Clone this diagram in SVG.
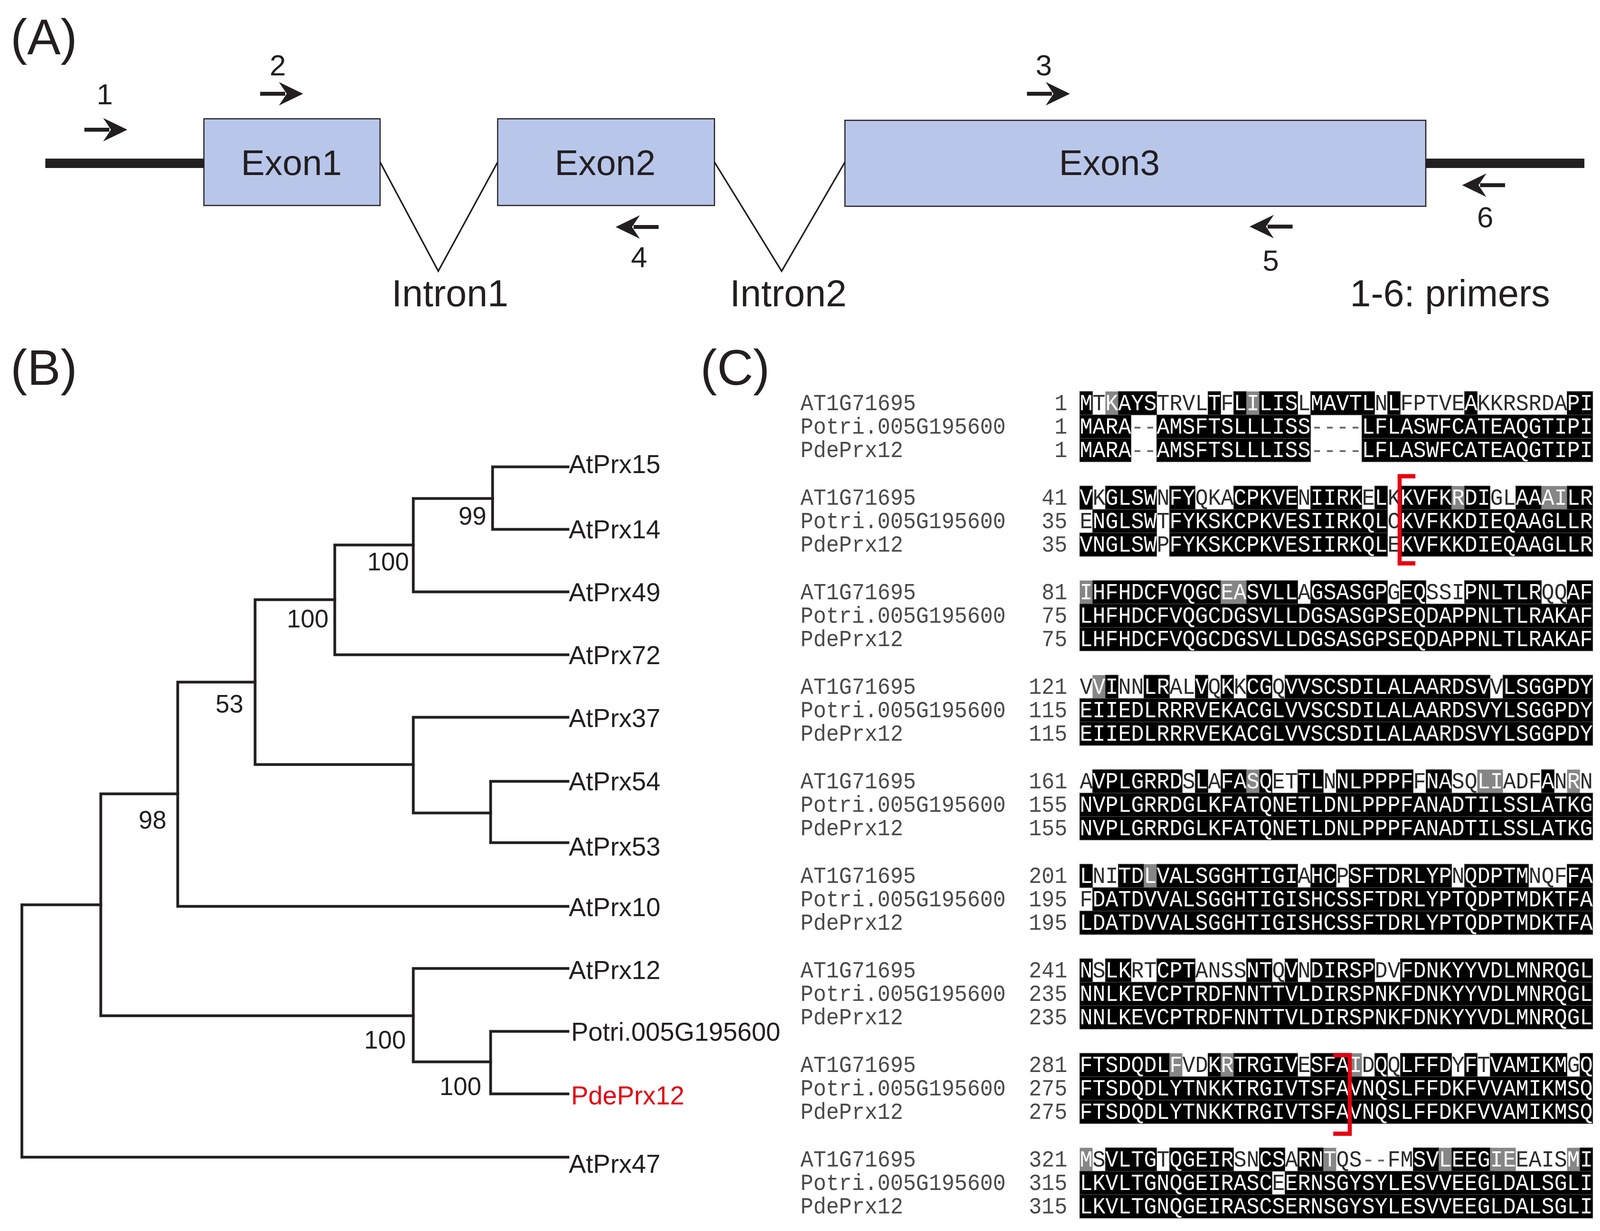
<svg xmlns="http://www.w3.org/2000/svg" xmlns:xlink="http://www.w3.org/1999/xlink" width="4240" height="3151" viewBox="0 0 4240 3151">
<style>
.lbl{font-family:"Liberation Sans",Arial,sans-serif;fill:#231f20}
.pl{font-size:128px}
.ex{font-size:91px;text-anchor:middle}
.in{font-size:96px}
.pn{font-size:75px;text-anchor:middle}
.lf{font-size:66px}
.bs{font-size:64px;text-anchor:end}
.tree{fill:none;stroke:#231f20;stroke-width:7;stroke-linecap:square}
.exon{fill:#b8c6ea;stroke:#231f20;stroke-width:3}
.intr{fill:none;stroke:#231f20;stroke-width:4}
.b{fill:#000;stroke:#444;stroke-width:1.5}
.g{fill:#868686}
.s{font-family:"Liberation Mono","Courier New",monospace;font-size:58.33px;fill:#fff}
.k{fill:#2b2b2b}
.d{fill:#6a6a6a}
.nm{font-family:"Liberation Mono","Courier New",monospace;font-size:58.33px;fill:#4a4a4a}
.nr{text-anchor:end}
.br{fill:none;stroke:#e60012;stroke-width:11}
</style>
<defs>
<path id="arr" d="M0,0 L-62,-30 L-42,0 L-62,30 Z M-110,-5 H-46 V5 H-110 Z" fill="#231f20"/>
</defs>
<rect width="4240" height="3151" fill="#fff"/>

<!-- Panel A -->
<g id="panelA">
<text class="lbl pl" x="27" y="139">(A)</text>
<g id="gene-line">
<rect x="116" y="406" width="408" height="24" fill="#231f20"/>
<rect x="3650" y="406" width="406" height="24" fill="#231f20"/>
</g>
<g id="exon1"><rect class="exon" x="522" y="304" width="451" height="222"/><text class="lbl ex" x="746" y="448">Exon1</text></g>
<g id="exon2"><rect class="exon" x="1274" y="304" width="555" height="222"/><text class="lbl ex" x="1549" y="448">Exon2</text></g>
<g id="exon3"><rect class="exon" x="2163" y="308" width="1487" height="220"/><text class="lbl ex" x="2840" y="448">Exon3</text></g>
<g id="intron1-label"><text class="lbl in" x="1152" y="784" text-anchor="middle">Intron1</text></g>
<g id="intron2-label"><text class="lbl in" x="2018" y="784" text-anchor="middle">Intron2</text></g>
<g id="primers-legend"><text class="lbl in" x="3456" y="784">1-6: primers</text></g>
<g id="primer1"><use xlink:href="#arr" transform="translate(326,332)"/><text class="lbl pn" x="268" y="267">1</text></g>
<g id="primer2"><use xlink:href="#arr" transform="translate(776,240)"/><text class="lbl pn" x="711" y="193">2</text></g>
<g id="primer3"><use xlink:href="#arr" transform="translate(2739,240)"/><text class="lbl pn" x="2672" y="193">3</text></g>
<g id="primer4"><use xlink:href="#arr" transform="translate(1576,581) scale(-1,1)"/><text class="lbl pn" x="1636" y="684">4</text></g>
<g id="primer5"><use xlink:href="#arr" transform="translate(3199,580) scale(-1,1)"/><text class="lbl pn" x="3253" y="693">5</text></g>
<g id="primer6"><use xlink:href="#arr" transform="translate(3743,474) scale(-1,1)"/><text class="lbl pn" x="3802" y="582">6</text></g>
</g>

<!-- Panel B -->
<g id="panelB">
<text class="lbl pl" x="27" y="985">(B)</text>
<g id="connectors">
<path class="intr" d="M973,415 L1122,694 L1274,415"/>
<path class="intr" d="M1829,415 L2001,694 L2163,415"/>
<path class="tree" d="M258,2316 H56 V2962 H1454"/>
<path class="tree" d="M455,2032 H258 V2600 H1058"/>
<path class="tree" d="M653,1746 H455 V2320 H1454"/>
<path class="tree" d="M857,1535 H653 V1957 H1058"/>
<path class="tree" d="M1058,1395 H857 V1676 H1454"/>
<path class="tree" d="M1261,1276 H1058 V1515 H1454"/>
<path class="tree" d="M1454,1195 H1261 V1355 H1454"/>
<path class="tree" d="M1454,1836 H1058 V2081 H1256"/>
<path class="tree" d="M1454,2000 H1256 V2157 H1454"/>
<path class="tree" d="M1454,2479 H1058 V2718 H1256"/>
<path class="tree" d="M1454,2640 H1256 V2800 H1454"/>
</g>
<g id="leaf-AtPrx15"><text class="lbl lf" x="1456" y="1211">AtPrx15</text></g>
<g id="leaf-AtPrx14"><text class="lbl lf" x="1456" y="1378">AtPrx14</text></g>
<g id="leaf-AtPrx49"><text class="lbl lf" x="1456" y="1539">AtPrx49</text></g>
<g id="leaf-AtPrx72"><text class="lbl lf" x="1456" y="1700">AtPrx72</text></g>
<g id="leaf-AtPrx37"><text class="lbl lf" x="1456" y="1861">AtPrx37</text></g>
<g id="leaf-AtPrx54"><text class="lbl lf" x="1456" y="2023">AtPrx54</text></g>
<g id="leaf-AtPrx53"><text class="lbl lf" x="1456" y="2190">AtPrx53</text></g>
<g id="leaf-AtPrx10"><text class="lbl lf" x="1456" y="2345">AtPrx10</text></g>
<g id="leaf-AtPrx12"><text class="lbl lf" x="1456" y="2506">AtPrx12</text></g>
<g id="leaf-Potri"><text class="lbl lf" x="1462" y="2664">Potri.005G195600</text></g>
<g id="leaf-PdePrx12"><text class="lbl lf" x="1462" y="2827" style="fill:#e60012">PdePrx12</text></g>
<g id="leaf-AtPrx47"><text class="lbl lf" x="1456" y="3002">AtPrx47</text></g>
<g id="bootstrap">
<text class="lbl bs" x="1245" y="1343">99</text>
<text class="lbl bs" x="1047" y="1460">100</text>
<text class="lbl bs" x="841" y="1606">100</text>
<text class="lbl bs" x="623" y="1824">53</text>
<text class="lbl bs" x="426" y="2121">98</text>
<text class="lbl bs" x="1039" y="2684">100</text>
<text class="lbl bs" x="1232" y="2803">100</text>
</g>
</g>

<!-- Panel C -->
<g id="panelC">
<text class="lbl pl" x="1793" y="985">(C)</text>
<g id="alignment" transform="translate(2040,0) scale(0.938,1) translate(-2040,0)">

<g id="block1">
<rect class="b" x="2812" y="1002" width="35" height="60"/><rect class="g" x="2882" y="1002" width="35" height="60"/><rect class="b" x="2917" y="1002" width="105" height="60"/><rect class="b" x="3162" y="1002" width="35" height="60"/><rect class="b" x="3232" y="1002" width="35" height="60"/><rect class="g" x="3267" y="1002" width="35" height="60"/><rect class="b" x="3302" y="1002" width="105" height="60"/><rect class="b" x="3442" y="1002" width="175" height="60"/><rect class="b" x="3652" y="1002" width="35" height="60"/><rect class="b" x="3862" y="1002" width="35" height="60"/><rect class="b" x="4142" y="1002" width="70" height="60"/>
<rect class="b" x="2812" y="1062" width="140" height="60"/><rect class="b" x="3022" y="1062" width="420" height="60"/><rect class="b" x="3582" y="1062" width="630" height="60"/>
<rect class="b" x="2812" y="1122" width="140" height="60"/><rect class="b" x="3022" y="1122" width="420" height="60"/><rect class="b" x="3582" y="1122" width="630" height="60"/>
<text class="nm" x="2050" y="1050">AT1G71695</text><text class="nm" x="2050" y="1110">Potri.005G195600</text><text class="nm" x="2050" y="1170">PdePrx12</text>
<text class="nm nr" x="2778" y="1050">1</text><text class="nm nr" x="2778" y="1110">1</text><text class="nm nr" x="2778" y="1170">1</text>
<text class="s" x="2812" y="1050">M<tspan class="k">T</tspan>KAYS<tspan class="k">TRVL</tspan>T<tspan class="k">F</tspan>LILIS<tspan class="k">L</tspan>MAVTL<tspan class="k">N</tspan>L<tspan class="k">FPTVE</tspan>A<tspan class="k">KKRSRDA</tspan>PI</text>
<text class="s" x="2812" y="1110">MARA<tspan class="d">--</tspan>AMSFTSLLLISS<tspan class="d">----</tspan>LFLASWFCATEAQGTIPI</text>
<text class="s" x="2812" y="1170">MARA<tspan class="d">--</tspan>AMSFTSLLLISS<tspan class="d">----</tspan>LFLASWFCATEAQGTIPI</text>
</g>

<g id="block2">
<rect class="b" x="2812" y="1244" width="35" height="60"/><rect class="b" x="2882" y="1244" width="140" height="60"/><rect class="b" x="3057" y="1244" width="70" height="60"/><rect class="b" x="3232" y="1244" width="175" height="60"/><rect class="b" x="3442" y="1244" width="140" height="60"/><rect class="b" x="3617" y="1244" width="35" height="60"/><rect class="b" x="3687" y="1244" width="140" height="60"/><rect class="g" x="3827" y="1244" width="35" height="60"/><rect class="b" x="3862" y="1244" width="70" height="60"/><rect class="b" x="4002" y="1244" width="70" height="60"/><rect class="g" x="4072" y="1244" width="70" height="60"/><rect class="b" x="4142" y="1244" width="70" height="60"/>
<rect class="b" x="2847" y="1304" width="175" height="60"/><rect class="b" x="3057" y="1304" width="595" height="60"/><rect class="b" x="3687" y="1304" width="525" height="60"/>
<rect class="b" x="2812" y="1364" width="210" height="60"/><rect class="b" x="3057" y="1364" width="595" height="60"/><rect class="b" x="3687" y="1364" width="525" height="60"/>
<text class="nm" x="2050" y="1292">AT1G71695</text><text class="nm" x="2050" y="1352">Potri.005G195600</text><text class="nm" x="2050" y="1412">PdePrx12</text>
<text class="nm nr" x="2778" y="1292">41</text><text class="nm nr" x="2778" y="1352">35</text><text class="nm nr" x="2778" y="1412">35</text>
<text class="s" x="2812" y="1292">V<tspan class="k">K</tspan>GLSW<tspan class="k">N</tspan>FY<tspan class="k">QKA</tspan>CPKVE<tspan class="k">N</tspan>IIRK<tspan class="k">E</tspan>L<tspan class="k">K</tspan>KVFKRDI<tspan class="k">GL</tspan>AAAILR</text>
<text class="s" x="2812" y="1352"><tspan class="k">E</tspan>NGLSW<tspan class="k">T</tspan>FYKSKCPKVESIIRKQL<tspan class="k">C</tspan>KVFKKDIEQAAGLLR</text>
<text class="s" x="2812" y="1412">VNGLSW<tspan class="k">P</tspan>FYKSKCPKVESIIRKQL<tspan class="k">E</tspan>KVFKKDIEQAAGLLR</text>
</g>

<g id="block3">
<rect class="g" x="2812" y="1486" width="35" height="60"/><rect class="b" x="2847" y="1486" width="350" height="60"/><rect class="g" x="3197" y="1486" width="70" height="60"/><rect class="b" x="3267" y="1486" width="140" height="60"/><rect class="b" x="3442" y="1486" width="210" height="60"/><rect class="b" x="3687" y="1486" width="70" height="60"/><rect class="b" x="3862" y="1486" width="210" height="60"/><rect class="b" x="4142" y="1486" width="70" height="60"/>
<rect class="b" x="2812" y="1546" width="1400" height="60"/><rect class="b" x="2812" y="1606" width="1400" height="60"/>
<text class="nm" x="2050" y="1534">AT1G71695</text><text class="nm" x="2050" y="1594">Potri.005G195600</text><text class="nm" x="2050" y="1654">PdePrx12</text>
<text class="nm nr" x="2778" y="1534">81</text><text class="nm nr" x="2778" y="1594">75</text><text class="nm nr" x="2778" y="1654">75</text>
<text class="s" x="2812" y="1534">IHFHDCFVQGCEASVLL<tspan class="k">A</tspan>GSASGP<tspan class="k">G</tspan>EQ<tspan class="k">SSI</tspan>PNLTLR<tspan class="k">QQ</tspan>AF</text>
<text class="s" x="2812" y="1594">LHFHDCFVQGCDGSVLLDGSASGPSEQDAPPNLTLRAKAF</text>
<text class="s" x="2812" y="1654">LHFHDCFVQGCDGSVLLDGSASGPSEQDAPPNLTLRAKAF</text>
</g>

<g id="block4">
<rect class="g" x="2847" y="1728" width="35" height="60"/><rect class="b" x="2882" y="1728" width="35" height="60"/><rect class="b" x="2987" y="1728" width="70" height="60"/><rect class="b" x="3127" y="1728" width="35" height="60"/><rect class="b" x="3197" y="1728" width="35" height="60"/><rect class="b" x="3267" y="1728" width="70" height="60"/><rect class="b" x="3372" y="1728" width="560" height="60"/><rect class="b" x="3967" y="1728" width="245" height="60"/>
<rect class="b" x="2812" y="1788" width="1400" height="60"/><rect class="b" x="2812" y="1848" width="1400" height="60"/>
<text class="nm" x="2050" y="1776">AT1G71695</text><text class="nm" x="2050" y="1836">Potri.005G195600</text><text class="nm" x="2050" y="1896">PdePrx12</text>
<text class="nm nr" x="2778" y="1776">121</text><text class="nm nr" x="2778" y="1836">115</text><text class="nm nr" x="2778" y="1896">115</text>
<text class="s" x="2812" y="1776"><tspan class="k">V</tspan>VI<tspan class="k">NN</tspan>LR<tspan class="k">AL</tspan>V<tspan class="k">Q</tspan>K<tspan class="k">K</tspan>CG<tspan class="k">Q</tspan>VVSCSDILALAARDSV<tspan class="k">V</tspan>LSGGPDY</text>
<text class="s" x="2812" y="1836">EIIEDLRRRVEKACGLVVSCSDILALAARDSVYLSGGPDY</text>
<text class="s" x="2812" y="1896">EIIEDLRRRVEKACGLVVSCSDILALAARDSVYLSGGPDY</text>
</g>

<g id="block5">
<rect class="b" x="2847" y="1970" width="245" height="60"/><rect class="b" x="3127" y="1970" width="35" height="60"/><rect class="b" x="3197" y="1970" width="70" height="60"/><rect class="g" x="3267" y="1970" width="35" height="60"/><rect class="b" x="3302" y="1970" width="35" height="60"/><rect class="b" x="3407" y="1970" width="70" height="60"/><rect class="b" x="3512" y="1970" width="210" height="60"/><rect class="b" x="3757" y="1970" width="70" height="60"/><rect class="g" x="3897" y="1970" width="70" height="60"/><rect class="b" x="4072" y="1970" width="35" height="60"/><rect class="g" x="4142" y="1970" width="35" height="60"/>
<rect class="b" x="2812" y="2030" width="1400" height="60"/><rect class="b" x="2812" y="2090" width="1400" height="60"/>
<text class="nm" x="2050" y="2018">AT1G71695</text><text class="nm" x="2050" y="2078">Potri.005G195600</text><text class="nm" x="2050" y="2138">PdePrx12</text>
<text class="nm nr" x="2778" y="2018">161</text><text class="nm nr" x="2778" y="2078">155</text><text class="nm nr" x="2778" y="2138">155</text>
<text class="s" x="2812" y="2018"><tspan class="k">A</tspan>VPLGRRD<tspan class="k">S</tspan>L<tspan class="k">A</tspan>FASQ<tspan class="k">ET</tspan>TL<tspan class="k">N</tspan>NLPPPF<tspan class="k">F</tspan>NA<tspan class="k">SQ</tspan>LI<tspan class="k">ADF</tspan>A<tspan class="k">N</tspan>R<tspan class="k">N</tspan></text>
<text class="s" x="2812" y="2078">NVPLGRRDGLKFATQNETLDNLPPPFANADTILSSLATKG</text>
<text class="s" x="2812" y="2138">NVPLGRRDGLKFATQNETLDNLPPPFANADTILSSLATKG</text>
</g>

<g id="block6">
<rect class="b" x="2812" y="2212" width="35" height="60"/><rect class="b" x="2917" y="2212" width="70" height="60"/><rect class="g" x="2987" y="2212" width="35" height="60"/><rect class="b" x="3022" y="2212" width="385" height="60"/><rect class="b" x="3442" y="2212" width="70" height="60"/><rect class="b" x="3547" y="2212" width="280" height="60"/><rect class="b" x="3862" y="2212" width="175" height="60"/><rect class="b" x="4142" y="2212" width="70" height="60"/>
<rect class="b" x="2847" y="2272" width="1365" height="60"/><rect class="b" x="2812" y="2332" width="1400" height="60"/>
<text class="nm" x="2050" y="2260">AT1G71695</text><text class="nm" x="2050" y="2320">Potri.005G195600</text><text class="nm" x="2050" y="2380">PdePrx12</text>
<text class="nm nr" x="2778" y="2260">201</text><text class="nm nr" x="2778" y="2320">195</text><text class="nm nr" x="2778" y="2380">195</text>
<text class="s" x="2812" y="2260">L<tspan class="k">NI</tspan>TDLVALSGGHTIGI<tspan class="k">A</tspan>HC<tspan class="k">P</tspan>SFTDRLYP<tspan class="k">N</tspan>QDPTM<tspan class="k">NQF</tspan>FA</text>
<text class="s" x="2812" y="2320"><tspan class="k">F</tspan>DATDVVALSGGHTIGISHCSSFTDRLYPTQDPTMDKTFA</text>
<text class="s" x="2812" y="2380">LDATDVVALSGGHTIGISHCSSFTDRLYPTQDPTMDKTFA</text>
</g>

<g id="block7">
<rect class="b" x="2812" y="2454" width="35" height="60"/><rect class="b" x="2882" y="2454" width="70" height="60"/><rect class="b" x="3022" y="2454" width="105" height="60"/><rect class="b" x="3267" y="2454" width="70" height="60"/><rect class="b" x="3372" y="2454" width="35" height="60"/><rect class="b" x="3442" y="2454" width="175" height="60"/><rect class="b" x="3687" y="2454" width="525" height="60"/>
<rect class="b" x="2812" y="2514" width="1400" height="60"/><rect class="b" x="2812" y="2574" width="1400" height="60"/>
<text class="nm" x="2050" y="2502">AT1G71695</text><text class="nm" x="2050" y="2562">Potri.005G195600</text><text class="nm" x="2050" y="2622">PdePrx12</text>
<text class="nm nr" x="2778" y="2502">241</text><text class="nm nr" x="2778" y="2562">235</text><text class="nm nr" x="2778" y="2622">235</text>
<text class="s" x="2812" y="2502">N<tspan class="k">S</tspan>LK<tspan class="k">RT</tspan>CPT<tspan class="k">ANSS</tspan>NT<tspan class="k">Q</tspan>V<tspan class="k">N</tspan>DIRSP<tspan class="k">DV</tspan>FDNKYYVDLMNRQGL</text>
<text class="s" x="2812" y="2562">NNLKEVCPTRDFNNTTVLDIRSPNKFDNKYYVDLMNRQGL</text>
<text class="s" x="2812" y="2622">NNLKEVCPTRDFNNTTVLDIRSPNKFDNKYYVDLMNRQGL</text>
</g>

<g id="block8">
<rect class="b" x="2812" y="2696" width="245" height="60"/><rect class="g" x="3057" y="2696" width="35" height="60"/><rect class="b" x="3162" y="2696" width="35" height="60"/><rect class="g" x="3197" y="2696" width="35" height="60"/><rect class="b" x="3232" y="2696" width="175" height="60"/><rect class="b" x="3442" y="2696" width="105" height="60"/><rect class="g" x="3547" y="2696" width="35" height="60"/><rect class="b" x="3617" y="2696" width="35" height="60"/><rect class="b" x="3687" y="2696" width="140" height="60"/><rect class="b" x="3862" y="2696" width="35" height="60"/><rect class="b" x="3932" y="2696" width="210" height="60"/><rect class="b" x="4177" y="2696" width="35" height="60"/>
<rect class="b" x="2812" y="2756" width="1400" height="60"/><rect class="b" x="2812" y="2816" width="1400" height="60"/>
<text class="nm" x="2050" y="2744">AT1G71695</text><text class="nm" x="2050" y="2804">Potri.005G195600</text><text class="nm" x="2050" y="2864">PdePrx12</text>
<text class="nm nr" x="2778" y="2744">281</text><text class="nm nr" x="2778" y="2804">275</text><text class="nm nr" x="2778" y="2864">275</text>
<text class="s" x="2812" y="2744">FTSDQDLF<tspan class="k">VD</tspan>KRTRGIV<tspan class="k">E</tspan>SFAI<tspan class="k">D</tspan>Q<tspan class="k">Q</tspan>LFFD<tspan class="k">Y</tspan>F<tspan class="k">T</tspan>VAMIKM<tspan class="k">G</tspan>Q</text>
<text class="s" x="2812" y="2804">FTSDQDLYTNKKTRGIVTSFAVNQSLFFDKFVVAMIKMSQ</text>
<text class="s" x="2812" y="2864">FTSDQDLYTNKKTRGIVTSFAVNQSLFFDKFVVAMIKMSQ</text>
</g>

<g id="block9">
<rect class="g" x="2812" y="2938" width="35" height="60"/><rect class="b" x="2882" y="2938" width="140" height="60"/><rect class="b" x="3057" y="2938" width="175" height="60"/><rect class="b" x="3302" y="2938" width="70" height="60"/><rect class="b" x="3407" y="2938" width="70" height="60"/><rect class="g" x="3477" y="2938" width="35" height="60"/><rect class="b" x="3722" y="2938" width="70" height="60"/><rect class="g" x="3792" y="2938" width="35" height="60"/><rect class="b" x="3827" y="2938" width="105" height="60"/><rect class="g" x="3932" y="2938" width="70" height="60"/><rect class="g" x="4142" y="2938" width="35" height="60"/><rect class="b" x="4177" y="2938" width="35" height="60"/>
<rect class="b" x="2812" y="2998" width="525" height="60"/><rect class="b" x="3372" y="2998" width="840" height="60"/>
<rect class="b" x="2812" y="3058" width="1400" height="60"/>
<text class="nm" x="2050" y="2986">AT1G71695</text><text class="nm" x="2050" y="3046">Potri.005G195600</text><text class="nm" x="2050" y="3106">PdePrx12</text>
<text class="nm nr" x="2778" y="2986">321</text><text class="nm nr" x="2778" y="3046">315</text><text class="nm nr" x="2778" y="3106">315</text>
<text class="s" x="2812" y="2986">M<tspan class="k">S</tspan>VLTG<tspan class="k">T</tspan>QGEIR<tspan class="k">SN</tspan>CS<tspan class="k">A</tspan>RNT<tspan class="k">QS</tspan><tspan class="d">--</tspan><tspan class="k">FM</tspan>SVLEEGIE<tspan class="k">EAIS</tspan>MI</text>
<text class="s" x="2812" y="3046">LKVLTGNQGEIRASC<tspan class="k">E</tspan>ERNSGYSYLESVVEEGLDALSGLI</text>
<text class="s" x="2812" y="3106">LKVLTGNQGEIRASCSERNSGYSYLESVVEEGLDALSGLI</text>
</g>

<g id="brackets">
<path class="br" d="M3728,1219 H3685 V1442 H3728"/>
<path class="br" d="M3504,2701 H3549 V2902 H3504"/>
</g>
</g>
</g>
</svg>
